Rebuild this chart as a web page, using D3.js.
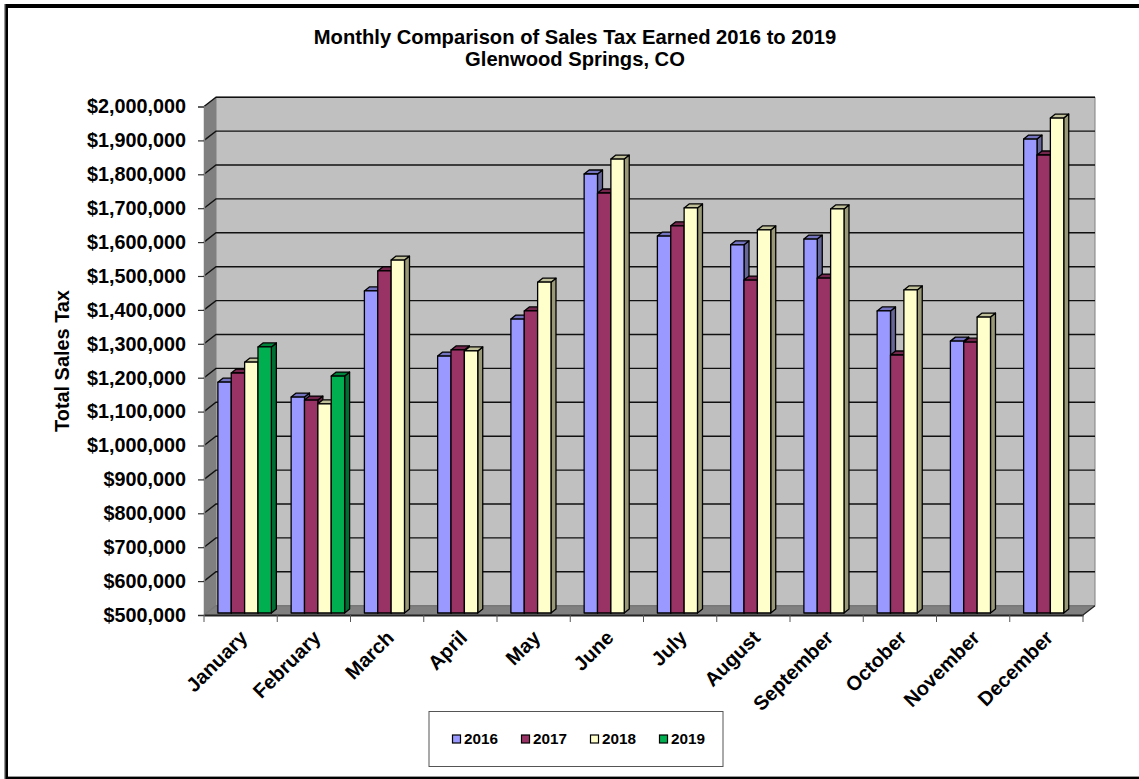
<!DOCTYPE html>
<html>
<head>
<meta charset="utf-8">
<script src="https://d3js.org/d3.v7.min.js"></script>
<style>
  html, body { margin: 0; padding: 0; background: #fff; }
  svg { display: block; }
  text { font-family: "Liberation Sans", Arial, sans-serif; font-weight: bold; fill: #000; }
</style>
</head>
<body>
<svg id="chart" width="1139" height="779"></svg>
<script>
const months = ["January", "February", "March", "April", "May", "June", "July", "August", "September", "October", "November", "December"];
const years = ["2016", "2017", "2018", "2019"];
const colors = ["#9999ff", "#993366", "#ffffcc", "#00b050"];
const sideColors = ["#666699", "#662244", "#999977", "#006f32"];
const topColors = ["#7373bf", "#73264c", "#bfbf99", "#00843c"];

const sales2016 = [1181000, 1137000, 1450000, 1258000, 1367000, 1795000, 1612000, 1586000, 1603000, 1391000, 1302000, 1898000];
const sales2017 = [1208000, 1128000, 1509000, 1276000, 1391000, 1739000, 1642000, 1482000, 1488000, 1261000, 1299000, 1851000];
const sales2018 = [1240000, 1117000, 1541000, 1273000, 1476000, 1839000, 1695000, 1630000, 1692000, 1453000, 1373000, 1960000];
const sales2019 = [1285000, 1199000];
const allSales = [sales2016, sales2017, sales2018, sales2019];

const yTicks = d3.range(500000, 2000001, 100000);

const svg = d3.select("#chart");

// frame, the right side runs off the picture
svg.append("rect").attr("x", 6).attr("y", 6).attr("width", 1140).attr("height", 772)
  .attr("fill", "#fff").attr("stroke", "#000").attr("stroke-width", 4);
svg.append("line").attr("x1", 4.7).attr("x2", 4.7).attr("y1", 4).attr("y2", 779)
  .attr("stroke", "#999").attr("stroke-width", 1.4);
svg.append("line").attr("x1", 8).attr("x2", 1139).attr("y1", 776.5).attr("y2", 776.5)
  .attr("stroke", "#999").attr("stroke-width", 1);

const x = d3.scaleBand().domain(months).range([204, 1083]).paddingInner(0.27).paddingOuter(0.135);
const y = d3.scaleLinear().domain([500000, 2000000]).range([615, 106.5]);
const xBar = d3.scaleBand().domain(d3.range(4)).range([0, x.bandwidth()]);

// depth of the fake 3d box
const depthX = 12, depthY = 9.3;
const barOffX = 4, barOffY = 2;
const barDepthX = 5, barDepthY = 4;

const x0 = x.range()[0], x1 = x.range()[1];
const yTop = y(2000000), yBase = y(500000);

// back wall, side wall, floor
svg.append("polygon")
  .attr("points", [[x0 + depthX, yTop - depthY], [x1 + depthX, yTop - depthY], [x1 + depthX, yBase - depthY], [x0 + depthX, yBase - depthY]].join(" "))
  .attr("fill", "#c0c0c0").attr("stroke", "#808080").attr("stroke-width", 1);
svg.append("polygon")
  .attr("points", [[x0, yTop], [x0 + depthX, yTop - depthY], [x0 + depthX, yBase - depthY], [x0, yBase]].join(" "))
  .attr("fill", "#808080");
svg.append("polygon")
  .attr("points", [[x0, yBase], [x0 + depthX, yBase - depthY], [x1 + depthX, yBase - depthY], [x1, yBase]].join(" "))
  .attr("fill", "#808080");

// gridlines run along the side wall and then the back wall
svg.append("g").selectAll("path").data(yTicks).join("path")
  .attr("d", d => `M${x0},${y(d)}L${x0 + depthX},${y(d) - depthY}L${x1 + depthX},${y(d) - depthY}`)
  .attr("fill", "none").attr("stroke", d => d === 500000 ? "#777" : "#111").attr("stroke-width", 1.4);

// value axis
const yAxis = d3.axisLeft(y).tickValues(yTicks).tickSize(6).tickPadding(12).tickFormat(d3.format("$,"));
const gy = svg.append("g").attr("transform", `translate(${x0},0)`).call(yAxis);
gy.selectAll("text").attr("font-size", 19.8).attr("fill", "#000").attr("font-family", '"Liberation Sans", Arial, sans-serif');
gy.select(".domain").attr("stroke", "#808080").attr("stroke-width", 1.5);
gy.selectAll(".tick line").attr("stroke", "#333").attr("stroke-width", 1.2);

// bars, back to front
const bars = svg.append("g");
months.forEach((m, mi) => {
  allSales.forEach((series, si) => {
    const v = series[mi];
    if (v === undefined) return;
    const bx = x(m) + xBar(si) + barOffX;
    const by = y(v) - barOffY;
    const bw = xBar.bandwidth();
    const bb = yBase - barOffY;
    const g = bars.append("g").attr("stroke", "#000").attr("stroke-width", 1.3).attr("stroke-linejoin", "round");
    g.append("polygon")
      .attr("points", [[bx + bw, by], [bx + bw + barDepthX, by - barDepthY], [bx + bw + barDepthX, bb - barDepthY], [bx + bw, bb]].join(" "))
      .attr("fill", sideColors[si]);
    g.append("polygon")
      .attr("points", [[bx, by], [bx + barDepthX, by - barDepthY], [bx + bw + barDepthX, by - barDepthY], [bx + bw, by]].join(" "))
      .attr("fill", topColors[si]);
    g.append("rect").attr("x", bx).attr("y", by).attr("width", bw).attr("height", bb - by).attr("fill", colors[si]);
  });
});

// category axis
const xAxis = d3.axisBottom(x).tickSize(0).tickFormat("");
const gx = svg.append("g").attr("transform", `translate(0,${yBase})`).call(xAxis);
gx.select(".domain").attr("stroke", "#222").attr("stroke-width", 2);
const edges = months.map(m => x(m) - x.step() * 0.135).concat([x1]);
gx.selectAll(".edge").data(edges).join("line").attr("class", "edge")
  .attr("x1", d => d).attr("x2", d => d).attr("y1", 0).attr("y2", 7)
  .attr("stroke", "#555").attr("stroke-width", 1);

// right end of the floor
svg.append("line").attr("x1", x1).attr("y1", yBase).attr("x2", x1 + depthX).attr("y2", yBase - depthY)
  .attr("stroke", "#222").attr("stroke-width", 1.2);

// month labels
svg.append("g").selectAll("text").data(months).join("text")
  .attr("font-size", 20)
  .attr("text-anchor", "end")
  .attr("transform", d => `translate(${x(d) + x.bandwidth() / 2 + 8},${yBase + 24}) rotate(-45)`)
  .text(d => d);

// titles
svg.append("text").attr("x", 575).attr("y", 44).attr("text-anchor", "middle").attr("font-size", 20.2)
  .text("Monthly Comparison of Sales Tax Earned 2016 to 2019");
svg.append("text").attr("x", 575).attr("y", 66).attr("text-anchor", "middle").attr("font-size", 20.2)
  .text("Glenwood Springs, CO");
svg.append("text").attr("text-anchor", "middle").attr("font-size", 19.9)
  .attr("transform", "translate(69,361) rotate(-90)")
  .text("Total Sales Tax");

// legend
svg.append("rect").attr("x", 429).attr("y", 711.5).attr("width", 294).attr("height", 55)
  .attr("fill", "#fff").attr("stroke", "#555").attr("stroke-width", 1);
const legendX = d3.scalePoint().domain(years).range([452.5, 659.5]);
const lg = svg.append("g").selectAll("g").data(years).join("g")
  .attr("transform", d => `translate(${legendX(d)},739)`);
lg.append("rect").attr("x", 0).attr("y", -4).attr("width", 8).attr("height", 8)
  .attr("fill", (d, i) => colors[i]).attr("stroke", "#000").attr("stroke-width", 1.2);
lg.append("text").attr("x", 11.5).attr("y", 5).attr("font-size", 15.3).text(d => d);
</script>
</body>
</html>
